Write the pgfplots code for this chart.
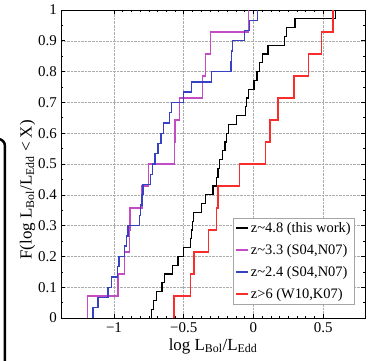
\documentclass[border=0pt]{standalone}
\usepackage{fontspec}
\setmainfont{Liberation Serif}
\usepackage{pgfplots}
\pgfplotsset{compat=1.18}
\definecolor{cmag}{RGB}{195,75,195}
\definecolor{cblue}{RGB}{55,65,195}
\definecolor{cred}{RGB}{250,45,45}
\begin{document}
\begin{tikzpicture}
\begin{axis}[
  scale only axis, width=304bp, height=308bp,
  xmin=-1.38, xmax=0.8, ymin=0, ymax=1,
  xtick={-1,-0.5,0,0.5}, xticklabels={−1,−0.5,0,0.5},
  ytick={0,0.1,0.2,0.3,0.4,0.5,0.6,0.7,0.8,0.9,1},
  yticklabels={0,0.1,0.2,0.3,0.4,0.5,0.6,0.7,0.8,0.9,1},
  minor x tick num=7, minor y tick num=1,
  tick align=inside,
  major tick length=4bp, minor tick length=2.2bp,
  grid=major, grid style={densely dotted, gray!65, line width=0.5pt},
  axis line style={line width=0.8pt},
  tick style={black, line width=0.6pt},
  tick label style={font=\fontsize{15}{18}\selectfont},
  xticklabel style={inner sep=0pt, yshift=-4bp},
  yticklabel style={inner sep=0pt, xshift=-4bp},
  xlabel={log L\textsubscript{Bol}/L\textsubscript{Edd}},
  ylabel={F(log L\textsubscript{Bol}/L\textsubscript{Edd} < X)},
  label style={font=\fontsize{17}{20}\selectfont},
  xlabel style={at={(axis description cs:0.5,0)}, anchor=center, yshift=-28bp},
  ylabel style={at={(axis description cs:-0.110,0.416)}, anchor=center},
  legend style={at={(axis description cs:0.967,0.045)}, anchor=south east,
    draw=gray!70, line width=0.6pt, fill=white, font=\fontsize{14.5}{17}\selectfont,
    inner sep=2bp, row sep=6.5bp},
  legend cell align=left,
  legend image code/.code={\draw[#1] (0bp,0bp) -- (12bp,0bp);},
  every axis plot/.append style={line width=1.3pt, const plot mark left},
]
\addplot[black] coordinates {
(-0.733,0) (-0.733,0.0286) (-0.715,0.0571) (-0.697,0.0857) (-0.655,0.1143) (-0.637,0.1429)
(-0.580,0.1714) (-0.542,0.2000) (-0.501,0.2286) (-0.452,0.2571) (-0.443,0.2857) (-0.437,0.3143)
(-0.430,0.3429) (-0.370,0.3714) (-0.345,0.4000) (-0.290,0.4286) (-0.265,0.4571) (-0.255,0.4857)
(-0.243,0.5143) (-0.222,0.5429) (-0.205,0.5714) (-0.193,0.6000) (-0.179,0.6286) (-0.124,0.6571)
(-0.058,0.6857) (-0.049,0.7143) (-0.035,0.7429) (0.003,0.7714) (0.025,0.8000) (0.045,0.8286)
(0.065,0.8571) (0.105,0.8857) (0.222,0.9143) (0.238,0.9429) (0.297,0.9714) (0.586,1.0000)};
\addlegendentry{z\textasciitilde4.8 (this work)}
\addplot[cmag] coordinates {
(-1.192,0) (-1.192,0.0714) (-0.971,0.1429) (-0.925,0.2143) (-0.890,0.2857) (-0.886,0.3571)
(-0.800,0.4286) (-0.752,0.5000) (-0.568,0.5714) (-0.562,0.6429) (-0.530,0.7143) (-0.365,0.7857)
(-0.346,0.8571) (-0.310,0.9286) (-0.033,1.0000)};
\addlegendentry{z\textasciitilde3.3 (S04,N07)}
\addplot[cblue] coordinates {
(-1.150,0) (-1.150,0.0333) (-1.114,0.0667) (-1.043,0.1000) (-1.019,0.1333) (-0.976,0.1667)
(-0.965,0.2000) (-0.924,0.2333) (-0.912,0.2667) (-0.900,0.3000) (-0.816,0.3333) (-0.810,0.3667)
(-0.800,0.4000) (-0.793,0.4333) (-0.740,0.4667) (-0.725,0.5000) (-0.705,0.5333) (-0.685,0.5667)
(-0.662,0.6000) (-0.645,0.6333) (-0.600,0.6667) (-0.588,0.7000) (-0.500,0.7333) (-0.446,0.7667)
(-0.303,0.8000) (-0.160,0.8333) (-0.155,0.8667) (-0.148,0.9000) (-0.065,0.9333) (-0.029,0.9667)
(0.031,1.0000)};
\addlegendentry{z\textasciitilde2.4 (S04,N07)}
\addplot[cred] coordinates {
(-0.570,0) (-0.570,0.0714) (-0.451,0.1429) (-0.427,0.2143) (-0.322,0.2857) (-0.265,0.3571)
(-0.255,0.4286) (-0.100,0.5000) (0.084,0.5714) (0.118,0.6429) (0.177,0.7143) (0.291,0.7857)
(0.395,0.8571) (0.488,0.9286) (0.570,1.0000)};
\addlegendentry{z>6 (W10,K07)}
\end{axis}
\draw[line width=2.5bp, rounded corners=7bp] (-75bp,179bp) -- (-56bp,179bp) -- (-56bp,-60bp);
\pgfresetboundingbox
\path (-61bp,-43bp) rectangle (313bp,318bp);
\end{tikzpicture}
\end{document}
